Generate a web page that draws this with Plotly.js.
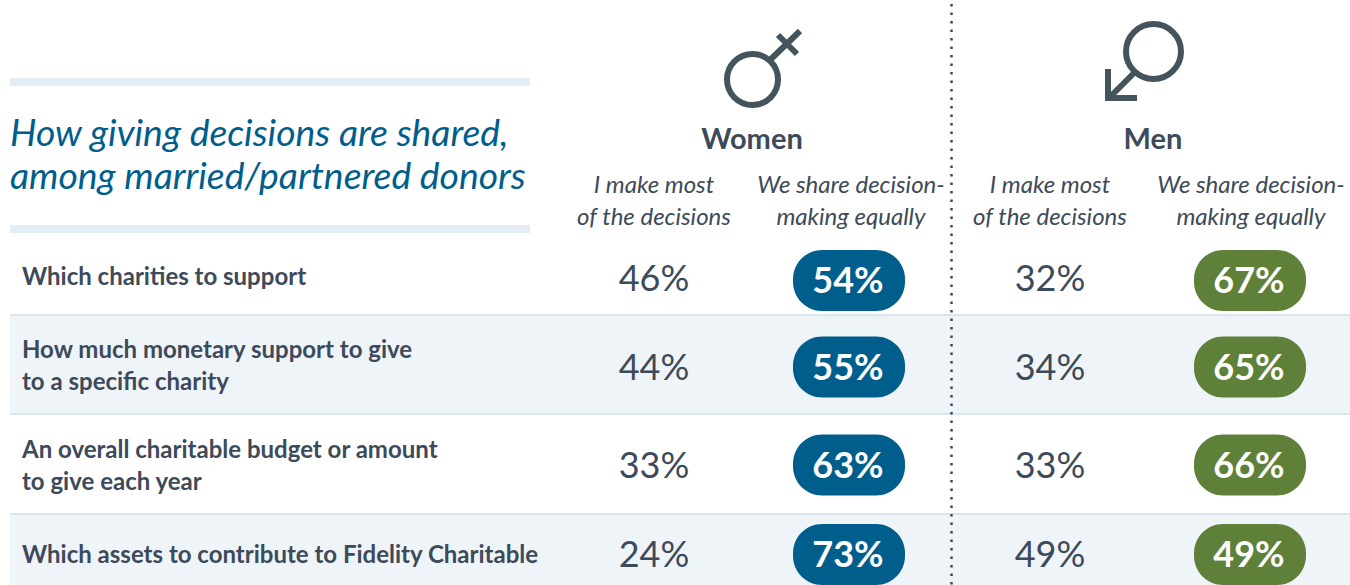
<!DOCTYPE html>
<html><head><meta charset="utf-8">
<script src="https://cdn.plot.ly/plotly-3.0.1.min.js"></script>
<style>html,body{margin:0;padding:0;background:#fff;overflow:hidden}#c{width:1350px;height:585px}</style>
</head><body><div id="c"></div>
<script>
const titleLines = ["How giving decisions are shared,", "among married/partnered donors"];
const groups = ["Women", "Men"];
const colHeadLine1 = ["I make most", "We share decision-", "I make most", "We share decision-"];
const colHeadLine2 = ["of the decisions", "making equally", "of the decisions", "making equally"];
const rowLabels = [
  ["Which charities to support"],
  ["How much monetary support to give", "to a specific charity"],
  ["An overall charitable budget or amount", "to give each year"],
  ["Which assets to contribute to Fidelity Charitable"]
];
const womenMost = [46, 44, 33, 24];
const womenShared = [54, 55, 63, 73];
const menMost = [32, 34, 33, 49];
const menShared = [67, 65, 66, 49];

const INK = "#3d4a5a", ICON = "#44545d", BLUE = "#005e8c", GREEN = "#5f8039";
const BAND = "#eff4f9", RULE = "#dbe5ee", BAR = "#e4ecf4";
const rowY = [278, 367, 465, 554];
const pillY = [280.5, 367, 465, 554.5];
const labelRowY = [275.5, 364, 464, 553];
const colX = [654, 848, 1050, 1250];
const groupX = [752, 1153];
const headX = [654, 851, 1050, 1251];
const pillX = [849, 1250];
const pillHalfW = 56, pillHalfH = 30.5, pillR = 29;
const TEXT_DY = 3.5;

function pillPath(cx, cy) {
  const l = cx - pillHalfW, r = cx + pillHalfW, t = cy - pillHalfH, b = cy + pillHalfH, k = pillR * 0.45;
  return `M${l + pillR},${t} L${r - pillR},${t} C${r - k},${t} ${r},${t + k} ${r},${t + pillR} L${r},${b - pillR} C${r},${b - k} ${r - k},${b} ${r - pillR},${b} L${l + pillR},${b} C${l + k},${b} ${l},${b - k} ${l},${b - pillR} L${l},${t + pillR} C${l},${t + k} ${l + k},${t} ${l + pillR},${t} Z`;
}
const rect = (x0, y0, x1, y1, color) => ({type: "rect", x0, y0, x1, y1, fillcolor: color, line: {width: 0}, layer: "below"});
const seg = (x0, y0, x1, y1, w) => ({type: "line", x0, y0, x1, y1, line: {color: ICON, width: w}, layer: "above"});
const ring = (cx, cy, r, w) => ({type: "circle", x0: cx - r, x1: cx + r, y0: cy - r, y1: cy + r, line: {color: ICON, width: w}, fillcolor: "rgba(0,0,0,0)"});

const shapes = [
  rect(10, 78, 530, 86, BAR),
  rect(10, 225, 530, 233, BAR),
  rect(10, 315, 1350, 414, BAND),
  rect(10, 514, 1350, 585, BAND),
  rect(10, 314, 1350, 316, RULE),
  rect(10, 413, 1350, 415, RULE),
  rect(10, 513, 1350, 515, RULE),
  {type: "line", x0: 951.5, x1: 951.5, y0: 4, y1: 585, line: {color: INK, width: 2.5, dash: "2.5px,6px"}, layer: "below"},
  ring(752.5, 79.5, 25.5, 6),
  seg(770, 60, 800, 31, 6),
  seg(778, 35, 797, 54, 6),
  ring(1153.5, 51.5, 27.5, 6),
  seg(1134, 73, 1110, 97, 6),
  {type: "path", path: "M1108,69 L1108,98 L1137,98", line: {color: ICON, width: 6}, fillcolor: "rgba(0,0,0,0)"}
];
pillY.forEach(y => {
  shapes.push({type: "path", path: pillPath(pillX[0], y), fillcolor: BLUE, line: {width: 0}, layer: "below"});
  shapes.push({type: "path", path: pillPath(pillX[1], y), fillcolor: GREEN, line: {width: 0}, layer: "below"});
});

function txt(x, y, text, size, color, opts) {
  opts = opts || {};
  return {type: "scatter", mode: "text", x, y: y.map(v => v + TEXT_DY), text, cliponaxis: false, hoverinfo: "skip",
    textposition: opts.pos || "middle center",
    textfont: {family: "Lato, Carlito, sans-serif", size, color, weight: opts.weight || 400, style: opts.style || "normal"}};
}
const pct = a => a.map(v => v + "%");
const labelX = [], labelY = [], labelT = [];
rowLabels.forEach((lines, i) => lines.forEach((t, j) => {
  labelX.push(22);
  labelY.push(labelRowY[i] + (j - (lines.length - 1) / 2) * 32);
  labelT.push(t);
}));

const traces = [
  txt([10, 10], [133.5, 176.5], titleLines, 37.3, BLUE, {pos: "middle right", style: "italic"}),
  txt(groupX, [138, 138], groups, 29, INK, {weight: 700}),
  txt(headX, [183.5, 183.5, 183.5, 183.5], colHeadLine1, 24, INK, {style: "italic"}),
  txt(headX, [215.5, 215.5, 215.5, 215.5], colHeadLine2, 24, INK, {style: "italic"}),
  txt(labelX, labelY, labelT, 24, INK, {pos: "middle right", weight: 700}),
  txt(rowY.map(() => colX[0]), rowY, pct(womenMost), 36, INK),
  txt(rowY.map(() => colX[1]), pillY, pct(womenShared), 36, "#ffffff", {weight: 700}),
  txt(rowY.map(() => colX[2]), rowY, pct(menMost), 36, INK),
  txt(rowY.map(() => colX[3] - 1), pillY, pct(menShared), 36, "#ffffff", {weight: 700})
];
const hidden = {visible: false, fixedrange: true};
Plotly.newPlot("c", traces, {
  width: 1350, height: 585, margin: {l: 0, r: 0, t: 0, b: 0},
  paper_bgcolor: "#fff", plot_bgcolor: "#fff", showlegend: false, hovermode: false,
  xaxis: Object.assign({range: [0, 1350]}, hidden),
  yaxis: Object.assign({range: [585, 0]}, hidden),
  shapes
}, {displayModeBar: false, staticPlot: true});
</script></body></html>
